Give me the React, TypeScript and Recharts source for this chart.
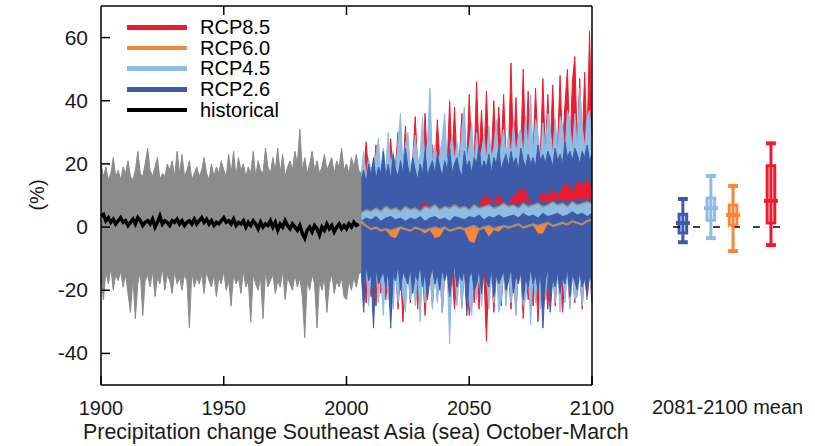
import React from 'react';
import { ComposedChart, Area, Line, XAxis, YAxis, ReferenceLine, ReferenceArea, Scatter } from 'recharts';

const FONT = '"Liberation Sans", Arial, Helvetica, sans-serif';
const C_RED = '#ec1c2e';
const C_ORANGE = '#f6873a';
const C_LBLUE = '#8dbce4';
const C_DBLUE = '#3d5ba8';
const C_GRAY = '#8b8b8b';
const C_MEANLINE = '#9c8e7c';

const xTicks = [1900, 1950, 2000, 2050, 2100];
const xTopTicks = [1950, 2000, 2050];
const yTicks = [-40, -20, 0, 20, 40, 60];

// historical ensemble envelope (1900-2006) and multi-model mean (1900-2005)
const histStart = 1900;
const histHigh = [
  20, 16, 19, 15, 17, 22, 16, 18, 15, 19,
  17, 21, 16, 15, 18, 24, 17, 16, 20, 25,
  18, 16, 19, 22, 15, 17, 16, 20, 18, 21,
  16, 24, 17, 23, 16, 18, 21, 15, 17, 19,
  16, 18, 22, 17, 15, 20, 16, 19, 17, 21,
  18, 16, 23, 17, 24, 16, 22, 18, 20, 16,
  19, 17, 24, 16, 21, 18, 17, 25, 19, 17,
  22, 18, 25, 17, 23, 16, 19, 21, 18, 24,
  20, 31, 18, 22, 17, 20, 24, 18, 21, 17,
  19, 23, 18, 20, 22, 17, 21, 19, 25, 18,
  20, 17, 22, 19, 23, 18, 17,
];
const histLow = [
  -16, -23, -14, -18, -13, -20, -15, -17, -14, -19,
  -15, -21, -27, -16, -29, -18, -14, -28, -17, -15,
  -19, -14, -22, -16, -18, -13, -20, -15, -17, -21,
  -14, -18, -16, -20, -15, -17, -32, -14, -19, -16,
  -18, -15, -21, -14, -17, -19, -15, -22, -16, -18,
  -14, -20, -17, -25, -15, -18, -16, -21, -14, -19,
  -17, -30, -15, -18, -20, -16, -29, -14, -19, -17,
  -15, -21, -17, -19, -14, -23, -16, -18, -20, -15,
  -19, -16, -22, -35, -17, -20, -15, -18, -32, -17,
  -20, -16, -27, -18, -15, -21, -17, -19, -16, -22,
  -23, -17, -20, -16, -19, -15, -14,
];
const histMean = [
  3.5, 4, 2, 3, 1.5, 2.5, 1, 2, 3, 1.5,
  2, 0.5, 1.5, 2.5, 1, 3, 2, 0.5, 1.5, 2,
  1, 2.5, 0, 1.5, 3.5, 1, 2, 1.5, 0.5, 2,
  1.5, 2.5, 1, 2, 0.5, 1.5, 2, 1, 2.5, 1,
  2, 3, 1.5, 2.5, 1, 2, 0.5, 1.5, 1, 2,
  3, 1.5, 2, 1, 2.5, 0.5, 1.5, 1, 2, 0,
  1.5, 0.5, 2, 1, -0.5, 1.5, 0, 1, 0.5, 2,
  0, 1.5, -1, 1, 0, 2, 0.5, -0.5, 1, 0,
  -1, 0.5, -2, -3.5, -1, 0, -1.5, 0.5, -0.5, -2.5,
  0, -1, 1, -0.5, 0.5, -1.5, 0, 1, -0.5, 0.5,
  -0.5, 1, 0, 1.5, 0.5, 1,
];

// scenario ensemble envelopes, 2006-2100
const futStart = 2006;
const rcp85High = [
  18, 16, 27, 17, 19, 16, 26, 18, 15, 24,
  17, 19, 28, 16, 20, 30, 18, 17, 32, 19,
  18, 22, 35, 19, 20, 18, 36, 20, 19, 26,
  19, 34, 21, 20, 31, 19, 40, 21, 38, 20,
  22, 36, 21, 20, 42, 22, 21, 46, 22, 37,
  21, 43, 23, 22, 40, 21, 38, 23, 42, 22,
  24, 52, 23, 41, 22, 25, 50, 23, 43, 24,
  23, 44, 25, 24, 47, 23, 42, 25, 45, 24,
  26, 48, 25, 39, 50, 24, 46, 54, 26, 47,
  25, 49, 27, 62, 28,
];
const rcp85Low = [
  -14, -16, -24, -13, -22, -15, -25, -14, -21, -13,
  -23, -14, -27, -15, -13, -26, -14, -30, -15, -13,
  -24, -14, -13, -26, -15, -14, -28, -15, -13, -25,
  -14, -23, -13, -27, -15, -13, -24, -14, -26, -15,
  -13, -25, -14, -15, -28, -13, -24, -14, -26, -13,
  -15, -36, -14, -13, -27, -15, -14, -25, -13, -23,
  -14, -26, -13, -27, -15, -14, -29, -13, -23, -15,
  -25, -14, -30, -13, -24, -15, -26, -14, -13, -25,
  -14, -13, -27, -15, -14, -25, -13, -24, -15, -14,
  -26, -13, -23, -14, -24,
];
const rcp45High = [
  17, 24, 16, 22, 18, 19, 23, 28, 17, 25,
  18, 30, 19, 24, 18, 27, 36, 19, 26, 30,
  19, 22, 29, 20, 23, 35, 19, 27, 44, 20,
  26, 21, 23, 28, 36, 20, 24, 29, 21, 27,
  20, 31, 38, 21, 26, 33, 20, 30, 22, 24,
  29, 21, 32, 22, 25, 34, 21, 26, 31, 22,
  30, 22, 33, 23, 29, 31, 22, 35, 24, 42,
  23, 34, 30, 22, 33, 24, 36, 31, 23, 34,
  24, 35, 32, 23, 37, 33, 24, 36, 25, 44,
  32, 25, 35, 37, 26,
];
const rcp45Low = [
  -14, -22, -13, -25, -15, -21, -13, -24, -14, -28,
  -13, -23, -15, -26, -14, -24, -13, -22, -27, -14,
  -23, -13, -25, -14, -30, -13, -24, -15, -14, -26,
  -13, -24, -14, -27, -15, -13, -37, -14, -13, -25,
  -14, -26, -13, -15, -24, -28, -13, -23, -14, -25,
  -13, -15, -26, -14, -24, -13, -27, -23, -14, -25,
  -13, -24, -15, -28, -13, -14, -25, -23, -13, -31,
  -14, -24, -13, -26, -15, -23, -13, -25, -14, -24,
  -13, -27, -14, -24, -13, -26, -15, -23, -22, -14,
  -25, -13, -23, -14, -22,
];
const rcp26High = [
  15, 18, 14, 20, 16, 22, 15, 19, 17, 24,
  16, 20, 15, 23, 18, 16, 21, 17, 25, 19,
  16, 22, 18, 15, 20, 17, 24, 16, 19, 21,
  17, 23, 19, 16, 21, 18, 25, 17, 20, 22,
  18, 16, 24, 19, 21, 17, 22, 20, 26, 18,
  21, 19, 23, 17, 22, 20, 25, 18, 21, 23,
  19, 24, 20, 22, 18, 25, 21, 19, 23, 20,
  22, 19, 26, 21, 23, 20, 24, 22, 19, 25,
  21, 23, 20, 27, 22, 24, 21, 25, 23, 20,
  24, 22, 26, 21, 23,
];
const rcp26Low = [
  -14, -27, -12, -17, -15, -32, -13, -18, -16, -14,
  -19, -13, -32, -15, -17, -12, -20, -14, -16, -18,
  -13, -21, -15, -17, -12, -19, -14, -23, -16, -13,
  -18, -15, -20, -13, -17, -14, -22, -16, -12, -19,
  -15, -17, -13, -28, -16, -14, -20, -18, -13, -21,
  -14, -17, -19, -13, -22, -15, -18, -16, -14, -20,
  -17, -13, -21, -15, -18, -14, -23, -16, -19, -13,
  -18, -15, -20, -14, -32, -17, -13, -27, -16, -19,
  -14, -21, -16, -18, -13, -22, -15, -17, -20, -14,
  -19, -16, -22, -15, -18,
];

// multi-model mean bands, every second year 2006-2100
const bandStart = 2006;
const bandStep = 2;
const rcp85BandLow = [
  4.5, 5, 5, 5.5, 5.5, 5.5, 6, 6, 6, 6,
  6, 6.5, 6.5, 6.5, 6.5, 6.5, 7, 7, 7, 7,
  7, 7, 7, 7, 7, 7, 7.5, 7.5, 7.5, 7.5,
  7.5, 7.5, 7.5, 8, 8, 8, 8, 8, 8, 8.5,
  8.5, 8.5, 8.5, 8.5, 9, 9, 9, 9,
];
const rcp85BandHigh = [
  4.5, 5, 5, 5.5, 5.5, 5.5, 6, 6, 6, 6,
  6, 6.5, 6.5, 8, 6.5, 6.5, 7, 7, 7, 7,
  7, 7, 7, 7, 7, 10, 9.5, 7.5, 10.5, 7.5,
  7.5, 10, 11, 12.5, 9.5, 8, 8, 11.5, 9.5, 12,
  10, 12.5, 14, 11, 15, 13, 15.5, 12,
];
const rcp45BandLow = [
  2, 3, 2.5, 3.5, 2, 3, 3.5, 2.5, 3, 2,
  3, 2.5, 3.5, 2, 3, 3.5, 2.5, 3, 2, 3.5,
  3, 2.5, 3.5, 3, 4, 2.5, 3.5, 3, 4, 3,
  3.5, 4, 3, 4.5, 3.5, 4, 3, 4.5, 3.5, 4,
  4.5, 3.5, 4, 5, 4, 4.5, 3.5, 4.5,
];
const rcp45BandHigh = [
  4.5, 5.5, 5, 6, 5, 6.5, 5.5, 6, 5, 6.5,
  5.5, 6, 5, 6.5, 6, 7, 5.5, 6.5, 6, 7,
  6, 6.5, 5.5, 7, 6, 6.5, 7, 6, 6.5, 7.5,
  6.5, 7, 6, 7.5, 6.5, 7, 7.5, 6.5, 7, 8,
  7, 7.5, 6.5, 8, 7, 7.5, 8, 7.5,
];
const rcp60BandLow = [
  1, 0, -1, -0.5, -1.5, -1, -3, -3.5, -0.5, -1,
  -1.5, -0.5, -1, -2, -1, -3.5, -3, -0.5, -1.5, -1,
  -0.5, -1, -4.5, -5, -1, -0.5, -3, -1, -1.5, 0,
  -0.5, 0, 0.5, -0.5, 0, 0.5, -2, -2, 1, 0,
  0.5, 1, 0.5, 1.5, 1, 0.5, 1.5, 2,
];
const rcp60BandHigh = [
  2, 0.5, -0.5, 0, -1, -0.5, -1, -0.5, 0, -0.5,
  -1, 0, -0.5, -1, -0.5, 0, -0.5, 0, -1, -0.5,
  0, -0.5, 0, 0.5, -0.5, 0, 0.5, -0.5, 0, 0.5,
  0, 0.5, 1, 0, 0.5, 1, 0.5, 1, 1.5, 0.5,
  1, 1.5, 1, 2, 1.5, 1, 2, 2.5,
];

// 2081-2100 mean box plots
const boxColors = [C_DBLUE, C_LBLUE, C_ORANGE, C_RED];
const boxSlot = [1.47, 2.43, 3.19, 4.49];
const boxMin = [-4.8, -3.5, -7.6, -5.7];
const boxQ1 = [-1.9, 2.2, 0.6, 1.3];
const boxMed = [1.3, 6.0, 3.8, 8.3];
const boxQ3 = [4.1, 9.2, 7.0, 19.4];
const boxMax = [8.9, 16.2, 13.0, 26.5];

const legendItems = [
  { name: 'RCP8.5', color: C_RED },
  { name: 'RCP6.0', color: C_ORANGE },
  { name: 'RCP4.5', color: C_LBLUE },
  { name: 'RCP2.6', color: C_DBLUE },
  { name: 'historical', color: '#000' },
];

const rows: any[] = [];
for (let y = 1900; y <= 2100; y++) rows.push({ year: y });
const at = (y: number) => rows[y - 1900];
histHigh.forEach((v, i) => {
  const r = at(histStart + i);
  r.gray = [histLow[i], v];
  if (i < histMean.length) r.hist = histMean[i];
});
rcp85High.forEach((v, i) => {
  const r = at(futStart + i);
  r.r85 = [rcp85Low[i], v];
  r.r45 = [rcp45Low[i], rcp45High[i]];
  r.r26 = [rcp26Low[i], rcp26High[i]];
});
rcp85BandHigh.forEach((v, i) => {
  const r = at(bandStart + i * bandStep);
  r.b85 = [rcp85BandLow[i], v];
  r.b45 = [rcp45BandLow[i], rcp45BandHigh[i]];
  r.b45top = rcp45BandHigh[i];
  r.b60 = [rcp60BandLow[i], rcp60BandHigh[i]];
  r.b60top = rcp60BandHigh[i];
});

const boxData = boxSlot.map((s, i) => ({ x: s, med: boxMed[i] }));

const TXT = '#1a1a1a';

const BottomTick = (p: any) => (
  <g>
    <line x1={p.x} x2={p.x} y1={p.y} y2={p.y - 9} stroke="#000" strokeWidth={1.5} />
    <text x={p.x} y={p.y + 30} textAnchor="middle" fontSize={20} fill={TXT} fontFamily={FONT}>{p.payload.value}</text>
  </g>
);
const TopTick = (p: any) => (
  <line x1={p.x} x2={p.x} y1={p.y} y2={p.y + 9} stroke="#000" strokeWidth={1.5} />
);
const LeftTick = (p: any) => (
  <g>
    <line x1={p.x} x2={p.x + 9} y1={p.y} y2={p.y} stroke="#000" strokeWidth={1.5} />
    <text x={p.x - 13} y={p.y + 7} textAnchor="end" fontSize={21} fill={TXT} fontFamily={FONT}>{p.payload.value}</text>
  </g>
);

const areaProps = { type: 'linear' as const, xAxisId: 'b', yAxisId: 'l', isAnimationActive: false, dot: false, activeDot: false, fillOpacity: 1 };

export default function App() {
  return (
    <div style={{ position: 'relative', width: 815, height: 446, background: '#fff', fontFamily: FONT, overflow: 'hidden' }}>
      <style>{'body{margin:0}'}</style>
      <ComposedChart width={815} height={446} data={rows} margin={{ top: 0, right: 175, bottom: 0, left: 0 }}>
        <XAxis xAxisId="b" dataKey="year" type="number" domain={[1900, 2100]} ticks={xTicks} interval={0}
          height={61} tickSize={0} tickMargin={0} tickLine={false} axisLine={{ stroke: '#000', strokeWidth: 1.5 }} tick={<BottomTick />} />
        <XAxis xAxisId="t" orientation="top" dataKey="year" type="number" domain={[1900, 2100]} ticks={xTopTicks} interval={0}
          height={6} tickSize={0} tickMargin={0} tickLine={false} axisLine={{ stroke: '#000', strokeWidth: 1.5 }} tick={<TopTick />} />
        <YAxis yAxisId="l" type="number" domain={[-50, 70]} ticks={yTicks} interval={0} width={101}
          tickSize={0} tickMargin={0} tickLine={false} axisLine={{ stroke: '#000', strokeWidth: 1.5 }} tick={<LeftTick />} />
        <YAxis yAxisId="r" orientation="right" type="number" domain={[-50, 70]} ticks={yTicks} interval={0} width={48}
          tickSize={9} tickMargin={7} tickLine={{ stroke: '#000', strokeWidth: 1.5 }} axisLine={{ stroke: '#000', strokeWidth: 1.5 }}
          tick={{ fontSize: 21, fill: TXT, fontFamily: FONT }} />

        <Area {...areaProps} dataKey="gray" fill={C_GRAY} stroke={C_GRAY} strokeWidth={1} />
        <Area {...areaProps} dataKey="r85" fill={C_RED} stroke={C_RED} strokeWidth={1} />
        <Area {...areaProps} dataKey="r45" fill={C_LBLUE} stroke={C_LBLUE} strokeWidth={1} />
        <Area {...areaProps} dataKey="r26" fill={C_DBLUE} stroke={C_DBLUE} strokeWidth={1} />
        <Area {...areaProps} dataKey="b85" fill={C_RED} stroke="none" connectNulls />
        <Area {...areaProps} dataKey="b45" fill={C_LBLUE} stroke="none" connectNulls />
        <Area {...areaProps} dataKey="b60" fill={C_ORANGE} stroke="none" connectNulls />
        <Line xAxisId="b" yAxisId="l" type="linear" dataKey="b45top" stroke={C_MEANLINE} strokeWidth={1.5} dot={false} activeDot={false} connectNulls isAnimationActive={false} />
        <Line xAxisId="b" yAxisId="l" type="linear" dataKey="b60top" stroke={C_MEANLINE} strokeWidth={1.5} dot={false} activeDot={false} connectNulls isAnimationActive={false} />
        <Line xAxisId="b" yAxisId="l" type="linear" dataKey="hist" stroke="#000" strokeWidth={3.5} dot={false} activeDot={false} isAnimationActive={false} />
      </ComposedChart>

      <div style={{ position: 'absolute', left: 640, top: 0 }}>
        <ComposedChart width={175} height={446} data={boxData} margin={{ top: 6, right: 0, bottom: 61, left: 0 }}>
          <XAxis dataKey="x" type="number" domain={[0, 6]} hide />
          <YAxis type="number" domain={[-50, 70]} hide />
          <ReferenceLine segment={[{ x: 1.13, y: 0 }, { x: 5.14, y: 0 }]} stroke="#000" strokeWidth={1.5} strokeDasharray="7 13" />
          {boxSlot.map((s, i) => (
            <ReferenceLine key={'w' + i} segment={[{ x: s, y: boxMin[i] }, { x: s, y: boxMax[i] }]} stroke={boxColors[i]} strokeWidth={3} />
          ))}
          {boxSlot.map((s, i) => (
            <ReferenceLine key={'ct' + i} segment={[{ x: s - 0.17, y: boxMax[i] }, { x: s + 0.17, y: boxMax[i] }]} stroke={boxColors[i]} strokeWidth={4} />
          ))}
          {boxSlot.map((s, i) => (
            <ReferenceLine key={'cb' + i} segment={[{ x: s - 0.17, y: boxMin[i] }, { x: s + 0.17, y: boxMin[i] }]} stroke={boxColors[i]} strokeWidth={4} />
          ))}
          {boxSlot.map((s, i) => (
            <ReferenceArea key={'b' + i} x1={s - 0.13} x2={s + 0.13} y1={boxQ1[i]} y2={boxQ3[i]} fill="#fff" fillOpacity={1} stroke={boxColors[i]} strokeWidth={3} />
          ))}
          {boxSlot.map((s, i) => (
            <ReferenceLine key={'m' + i} segment={[{ x: s - 0.24, y: boxMed[i] }, { x: s + 0.24, y: boxMed[i] }]} stroke={boxColors[i]} strokeWidth={4} />
          ))}
          <Scatter dataKey="med" isAnimationActive={false} shape={() => <g />} />
        </ComposedChart>
      </div>

      <div style={{ position: 'absolute', left: 127, top: 17 }}>
        {legendItems.map((it) => (
          <div key={it.name} style={{ display: 'flex', alignItems: 'center', height: 20.7 }}>
            <div style={{ width: 60, height: 4.5, background: it.color }} />
            <span style={{ marginLeft: 13, fontSize: 20, lineHeight: '20.7px', color: '#000' }}>{it.name}</span>
          </div>
        ))}
      </div>

      <div style={{ position: 'absolute', left: 37, top: 195, transform: 'translate(-50%, -50%) rotate(-90deg)', fontSize: 20, color: TXT, whiteSpace: 'nowrap' }}>(%)</div>
      <div style={{ position: 'absolute', left: 652, top: 396, fontSize: 20, color: TXT, whiteSpace: 'nowrap' }}>2081-2100 mean</div>
      <div style={{ position: 'absolute', left: 83, top: 420, fontSize: 21.4, color: TXT, whiteSpace: 'nowrap' }}>Precipitation change Southeast Asia (sea) October-March</div>
    </div>
  );
}
